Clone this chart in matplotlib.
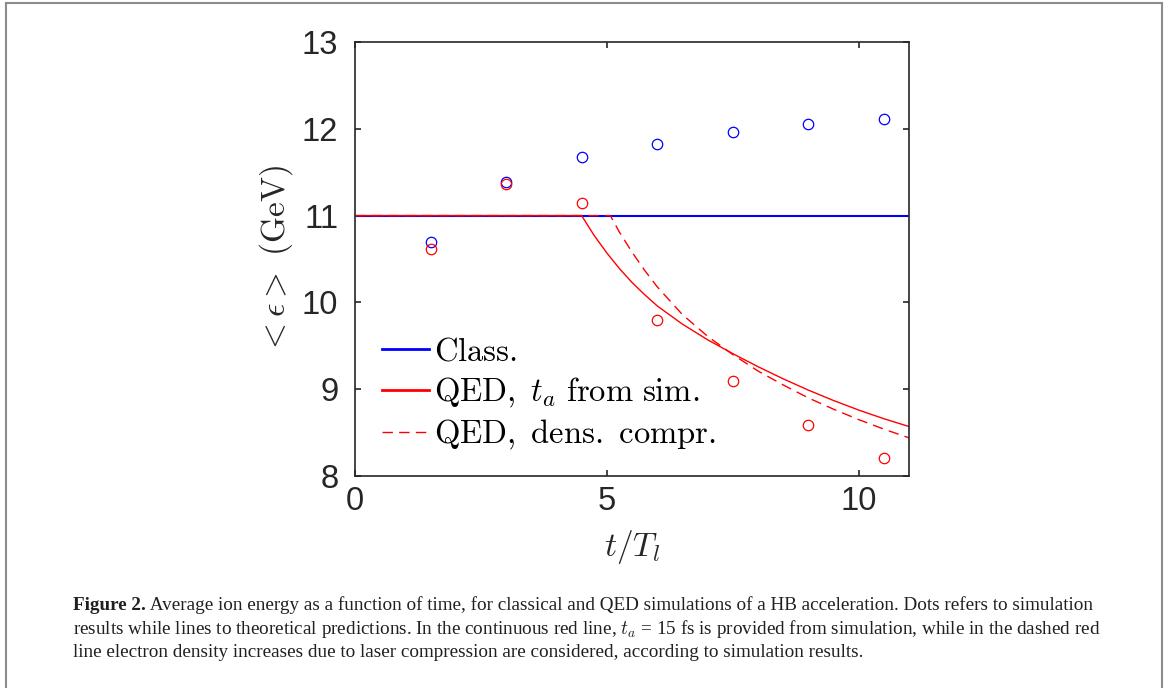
import matplotlib
matplotlib.use('Agg')
import matplotlib.pyplot as plt
from matplotlib.lines import Line2D

plt.rcParams['mathtext.fontset'] = 'cm'

# simulation results (dots)
t_sim = [1.5, 3.0, 4.5, 6.0, 7.5, 9.0, 10.5]
e_class_sim = [10.70, 11.39, 11.67, 11.83, 11.96, 12.05, 12.11]
e_qed_sim = [10.61, 11.36, 11.15, 9.80, 9.10, 8.59, 8.21]

# theoretical predictions (lines)
t_class = [0, 11]
e_class = [11.0, 11.0]
t_qed = [0, 4.5, 4.75, 5.0, 5.25, 5.5, 5.75, 6.0, 6.5, 7.0, 7.5, 8.0, 8.5, 9.0, 9.5, 10.0, 10.5, 11.0]
e_qed = [11.0, 11.0, 10.77, 10.57, 10.39, 10.23, 10.09, 9.96, 9.75, 9.57, 9.41, 9.26, 9.12, 8.99, 8.87, 8.76, 8.66, 8.57]
t_dens = [0, 5.07, 5.25, 5.5, 5.75, 6.0, 6.5, 7.0, 7.5, 8.0, 8.5, 9.0, 9.5, 10.0, 10.5, 11.0]
e_dens = [11.0, 11.0, 10.81, 10.58, 10.37, 10.18, 9.86, 9.61, 9.40, 9.21, 9.05, 8.90, 8.77, 8.65, 8.54, 8.44]

labels = [r'$\mathrm{Class.}$',
          r'$\mathrm{QED,}\ t_a\ \mathrm{from\ sim.}$',
          r'$\mathrm{QED,\ dens.\ compr.}$']

caption_bold = 'Figure 2.'
caption = [' Average ion energy as a function of time, for classical and QED simulations of a HB acceleration. Dots refers to simulation',
           r'results while lines to theoretical predictions. In the continuous red line, $t_a$ = 15 fs is provided from simulation, while in the dashed red',
           'line electron density increases due to laser compression are considered, according to simulation results.']

W, H = 1168, 688
fig = plt.figure(figsize=(W / 100, H / 100), dpi=100)
ax = fig.add_axes([355 / W, 1 - 476 / H, 554 / W, 434 / H])

ax.plot(t_class, e_class, color='#0000ff', lw=1.5, label=labels[0])
ax.plot(t_qed, e_qed, color='#ff0000', lw=1.0, label=labels[1])
ax.plot(t_dens, e_dens, color='#ff0000', lw=1.0, ls=(0, (7.5, 4.5)), label=labels[2])
ax.plot(t_sim, e_class_sim, 'o', mfc='none', mec='#0000ff', ms=7.5, mew=0.9)
ax.plot(t_sim, e_qed_sim, 'o', mfc='none', mec='#ff0000', ms=7.5, mew=0.9)

ax.set_xlim(0, 11)
ax.set_ylim(8, 13)
ax.set_xticks([0, 5, 10])
ax.set_yticks([8, 9, 10, 11, 12, 13])
for s in ax.spines.values():
    s.set_linewidth(1.2)
    s.set_color('#262626')
ax.tick_params(direction='in', top=True, right=True, length=4, width=1.2,
               colors='#262626', labelsize=23.5)
ax.tick_params(axis='y', pad=12)
ax.tick_params(axis='x', pad=7)
for lab in ax.get_xticklabels() + ax.get_yticklabels():
    lab.set_fontfamily('Liberation Sans')

ax.set_xlabel(r'$t/T_l$', fontsize=24, labelpad=8, color='#262626')
ax.set_ylabel(r'$<\epsilon>\ (\mathrm{GeV})$', fontsize=24, labelpad=5, color='#262626')

leg = ax.legend(loc='lower left', bbox_to_anchor=(0.049, 0.055), frameon=False,
                fontsize=23.5, handlelength=1.45, handletextpad=0.15,
                labelspacing=0.24, borderpad=0, borderaxespad=0)
leg.get_lines()[0].set_linewidth(2.0)
leg.get_lines()[1].set_linewidth(2.0)

# caption
r = fig.canvas.get_renderer()
fs = 13
probe = fig.text(0, 0, caption_bold + caption[0], family='Liberation Serif', fontsize=fs)
wpx = probe.get_window_extent(r).width
probe.remove()
fs = fs * 1015 / wpx
y0 = 610
tb = fig.text(73 / W, 1 - y0 / H, caption_bold, family='Liberation Serif', weight='bold',
              fontsize=fs, va='baseline', color='#231f20')
bb = tb.get_window_extent(r)
fig.text(bb.x1 / W, 1 - y0 / H, caption[0], family='Liberation Serif', fontsize=fs,
         va='baseline', color='#231f20')
for i, line in enumerate(caption[1:]):
    fig.text(73 / W, 1 - (y0 + 23.5 * (i + 1)) / H, line, family='Liberation Serif',
             fontsize=fs, va='baseline', color='#231f20')

# page frame
fig.add_artist(Line2D([5.5 / W, 5.5 / W], [0, 1 - 3 / H], transform=fig.transFigure, color='#8c8c8c', lw=1.5))
fig.add_artist(Line2D([5.5 / W, 1161.5 / W], [1 - 3 / H, 1 - 3 / H], transform=fig.transFigure, color='#8c8c8c', lw=1.5))
fig.add_artist(Line2D([1161.5 / W, 1161.5 / W], [0, 1 - 3 / H], transform=fig.transFigure, color='#8c8c8c', lw=1.5))

fig.savefig('out.png', dpi=100)
